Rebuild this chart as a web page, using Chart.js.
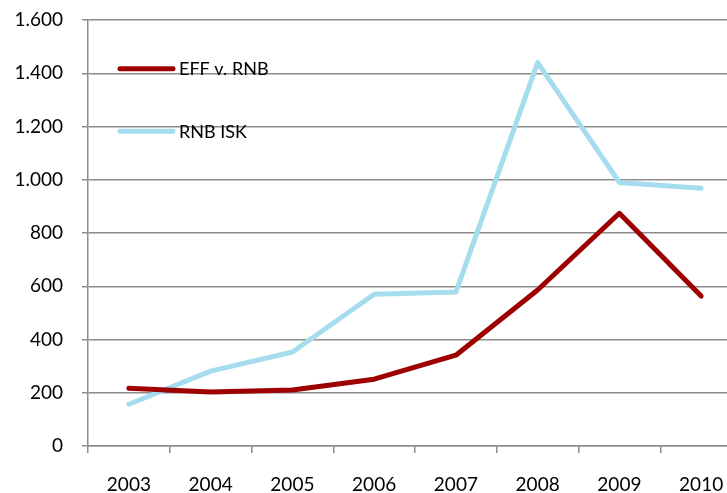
<!DOCTYPE html>
<html>
<head>
<meta charset="utf-8">
<script src="https://cdn.jsdelivr.net/npm/chart.js@4.4.1/dist/chart.umd.min.js"></script>
<style>
html,body{margin:0;padding:0;background:#fff;overflow:hidden;width:727px;height:493px;}
#wrap{position:absolute;left:0;top:0;width:742px;height:493px;}
</style>
</head>
<body>
<div id="wrap"><canvas id="c" width="742" height="493"></canvas></div>
<script>
const categories = ['2003','2004','2005','2006','2007','2008','2009','2010'];
const effVRnb = [217, 203, 210, 251, 341, 586, 874, 563];
const rnbIsk  = [157, 281, 353, 570, 578, 1440, 990, 968];
const seriesNames = ['EFF v. RNB', 'RNB ISK'];
const seriesColors = ['#9E0000', '#A6DDEE'];
const yTicks = [0, 200, 400, 600, 800, 1000, 1200, 1400, 1600];

const FONT = 'Lato, "Open Sans", sans-serif';

function fmt(v){
  const s = String(Math.round(v));
  return s.replace(/\B(?=(\d{3})+(?!\d))/g, '.');
}

const legendPlugin = {
  id: 'innerLegend',
  afterDraw(chart){
    const ctx = chart.ctx;
    const rows = [68.7, 131.3];
    ctx.save();
    chart.data.datasets.forEach((ds, i) => {
      const y = rows[i];
      ctx.strokeStyle = ds.borderColor;
      ctx.lineWidth = 5;
      ctx.lineCap = 'round';
      ctx.beginPath();
      ctx.moveTo(120, y);
      ctx.lineTo(173, y);
      ctx.stroke();
      ctx.fillStyle = '#000';
      ctx.font = '18px ' + FONT;
      ctx.textBaseline = 'alphabetic';
      ctx.textAlign = 'left';
      ctx.fillText(ds.label, 179, y + 6.5);
    });
    ctx.restore();
  }
};

new Chart(document.getElementById('c'), {
  type: 'line',
  data: {
    labels: categories,
    datasets: [
      { label: seriesNames[0], data: effVRnb, borderColor: seriesColors[0], backgroundColor: seriesColors[0] },
      { label: seriesNames[1], data: rnbIsk, borderColor: seriesColors[1], backgroundColor: seriesColors[1] }
    ]
  },
  options: {
    responsive: false,
    animation: false,
    devicePixelRatio: 1,
    layout: { autoPadding: false, padding: { top: 20, right: 0, left: 0, bottom: 0 } },
    elements: {
      line: { borderWidth: 5, tension: 0, borderCapStyle: 'round', borderJoinStyle: 'round' },
      point: { radius: 0, hoverRadius: 0 }
    },
    plugins: { legend: { display: false }, tooltip: { enabled: false } },
    scales: {
      x: {
        offset: true,
        grid: { display: true, offset: true, drawOnChartArea: false, drawTicks: true, tickLength: 7, color: '#8C8C8C', lineWidth: 1.5 },
        border: { display: true, color: '#8C8C8C', width: 1.5 },
        ticks: { color: '#000', font: { family: FONT, size: 19 }, padding: 20, maxRotation: 0 },
        afterFit(scale){ scale.height = 47; scale.paddingLeft = 0; scale.paddingRight = 0; }
      },
      y: {
        min: 0, max: 1600,
        afterBuildTicks(scale){ scale.ticks = yTicks.map(v => ({ value: v })); },
        grid: { color: '#8C8C8C', lineWidth: 1.5, drawTicks: true, tickLength: 6 },
        border: { display: true, color: '#8C8C8C', width: 1.5 },
        ticks: { color: '#000', font: { family: FONT, size: 19 }, padding: 19, callback: v => fmt(v) },
        afterFit(scale){ scale.width = 88; scale.paddingTop = 0; scale.paddingBottom = 0; }
      }
    }
  },
  plugins: [legendPlugin]
});
</script>
</body>
</html>
